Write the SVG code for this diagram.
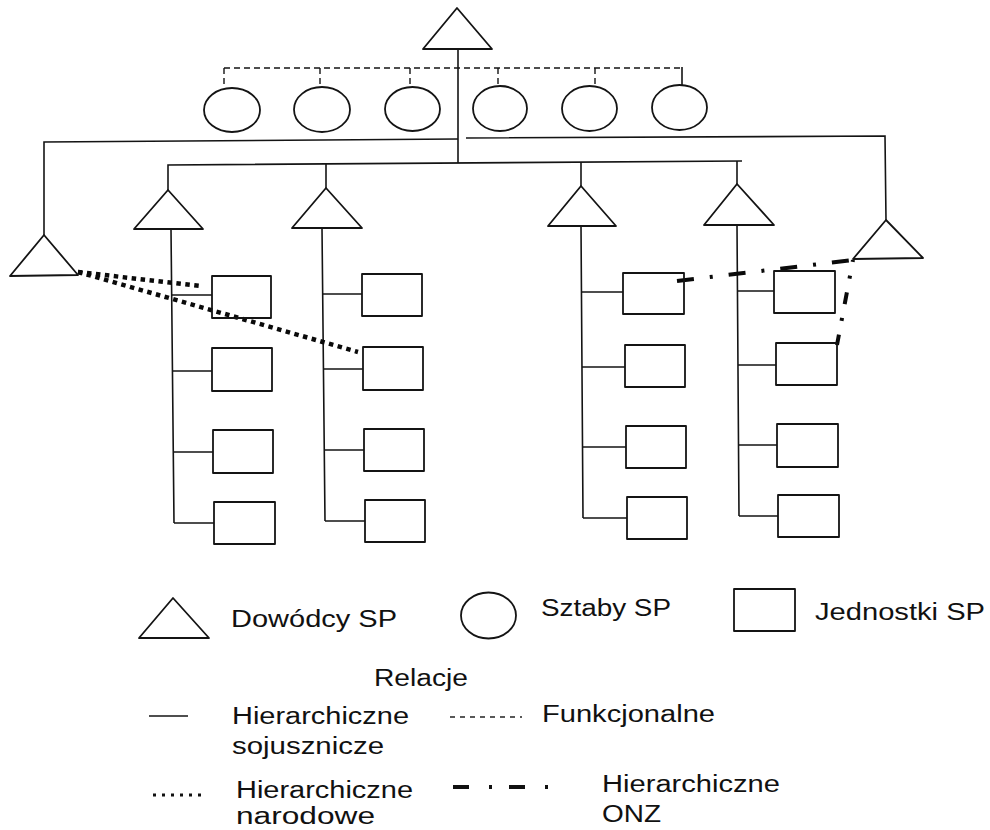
<svg xmlns="http://www.w3.org/2000/svg" width="990" height="830" viewBox="0 0 990 830">
<style>
.n{fill:none;stroke:#141414;stroke-width:1.8;stroke-linejoin:round}
.h{fill:none;stroke:#141414;stroke-width:1.6}
.f{fill:none;stroke:#141414;stroke-width:1.4;stroke-dasharray:6 4}
.nat{fill:none;stroke:#0a0a0a;stroke-width:4.5;stroke-dasharray:4.5 4.5}
.onz{fill:none;stroke:#0a0a0a;stroke-width:4;stroke-dasharray:17 16 3 16}
.t{font-family:"Liberation Sans",Arial,sans-serif;font-size:23px;fill:#111}
</style>
<rect width="990" height="830" fill="#fff"/>
<g id="connectors">
  <path class="f" d="M224,68 H682 M224,68 V88 M320,68 V87 M410,68 V87 M498,68 V86 M595,68 V86"/>
  <path class="h" d="M682,67 V86"/>
  <path class="h" d="M458,49 V163"/>
  <path class="h" d="M44,235 V142 L458,139"/>
  <path class="h" d="M466,138 L885,136 L886,220"/>
  <path class="h" d="M168,190 V165 L742,161"/>
  <path class="h" d="M326,188 V164 M581,186 V162 M737,184 V161"/>
  <path class="h" d="M171,229 L174,523 M171.5,295 H212 M172,371 H212 M173,452 H213 M174,523 H214"/>
  <path class="h" d="M322,228 L325,521 M322.5,294 H362 M323,369 H363 M324,450 H364 M325,521 H365"/>
  <path class="h" d="M581,226 L583,518 M581.5,292 H623 M582,367 H625 M582.5,447 H626 M583,518 H627"/>
  <path class="h" d="M737,225 L739,516 M737.5,291 H774 M738,365 H776 M738.5,445 H777 M739,516 H778"/>
  <path class="nat" d="M78,272 L200,286"/>
  <path class="nat" d="M78,272 L358,352"/>
  <path class="onz" d="M677,281 L853,260"/>
  <path class="onz" style="stroke-dasharray:12 14 3 14;stroke-dashoffset:10" d="M853,260 L837,345"/>
</g>
<g id="cmd-top"><polygon class="n" points="457,8 423,49 492,49"/></g>
<g id="staff-1"><ellipse class="n" cx="232" cy="110" rx="28" ry="22"/></g>
<g id="staff-2"><ellipse class="n" cx="322" cy="109.5" rx="28" ry="22.5"/></g>
<g id="staff-3"><ellipse class="n" cx="412.5" cy="109" rx="27.5" ry="22"/></g>
<g id="staff-4"><ellipse class="n" cx="500" cy="108.5" rx="27" ry="22.5"/></g>
<g id="staff-5"><ellipse class="n" cx="589.5" cy="108.5" rx="27.5" ry="22.5"/></g>
<g id="staff-6"><ellipse class="n" cx="679.5" cy="107.5" rx="27.5" ry="22.5"/></g>
<g id="cmd-left"><polygon class="n" points="44,235 10,276 78,275"/></g>
<g id="cmd-a"><polygon class="n" points="168,190 134,229 203,229"/></g>
<g id="cmd-b"><polygon class="n" points="326,188 292,228 362,228"/></g>
<g id="cmd-c"><polygon class="n" points="581,186 548,226 616,226"/></g>
<g id="cmd-d"><polygon class="n" points="737,184 704,225 774,225"/></g>
<g id="cmd-right"><polygon class="n" points="886,220 853,259 923,258"/></g>
<g id="unit-a1"><rect class="n" x="212" y="276" width="59" height="42"/></g>
<g id="unit-a2"><rect class="n" x="212" y="348" width="60" height="43"/></g>
<g id="unit-a3"><rect class="n" x="213" y="430" width="60" height="43"/></g>
<g id="unit-a4"><rect class="n" x="214" y="502" width="61" height="42"/></g>
<g id="unit-b1"><rect class="n" x="362" y="274" width="60" height="42"/></g>
<g id="unit-b2"><rect class="n" x="363" y="347" width="60" height="43"/></g>
<g id="unit-b3"><rect class="n" x="364" y="429" width="60" height="42"/></g>
<g id="unit-b4"><rect class="n" x="365" y="500" width="60" height="42"/></g>
<g id="unit-c1"><rect class="n" x="623" y="273" width="61" height="41"/></g>
<g id="unit-c2"><rect class="n" x="625" y="345" width="60" height="42"/></g>
<g id="unit-c3"><rect class="n" x="626" y="426" width="60" height="42"/></g>
<g id="unit-c4"><rect class="n" x="627" y="497" width="60" height="42"/></g>
<g id="unit-d1"><rect class="n" x="774" y="271" width="61" height="42"/></g>
<g id="unit-d2"><rect class="n" x="776" y="343" width="61" height="42"/></g>
<g id="unit-d3"><rect class="n" x="777" y="424" width="61" height="43"/></g>
<g id="unit-d4"><rect class="n" x="778" y="495" width="61" height="42"/></g>
<g id="legend-commanders">
  <polygon class="n" points="173,598 139,638 209,638"/>
  <text class="t" x="231" y="627" textLength="166" lengthAdjust="spacingAndGlyphs">Dowódcy SP</text>
</g>
<g id="legend-staffs">
  <ellipse class="n" cx="488.5" cy="615.5" rx="27.5" ry="23"/>
  <text class="t" x="541" y="616" textLength="130" lengthAdjust="spacingAndGlyphs">Sztaby SP</text>
</g>
<g id="legend-units">
  <rect class="n" x="734" y="589" width="61" height="42"/>
  <text class="t" x="815" y="620" textLength="170" lengthAdjust="spacingAndGlyphs">Jednostki SP</text>
</g>
<g id="legend-relations">
  <text class="t" x="374" y="686" textLength="94" lengthAdjust="spacingAndGlyphs">Relacje</text>
  <path class="h" d="M149,716 H188"/>
  <text class="t" x="232" y="724" textLength="177" lengthAdjust="spacingAndGlyphs">Hierarchiczne</text>
  <text class="t" x="232" y="754" textLength="152" lengthAdjust="spacingAndGlyphs">sojusznicze</text>
  <path fill="none" stroke="#222" stroke-width="1.4" stroke-dasharray="5 5" d="M450,717 H522"/>
  <text class="t" x="542" y="722" textLength="173" lengthAdjust="spacingAndGlyphs">Funkcjonalne</text>
  <path fill="none" stroke="#111" stroke-width="3" stroke-dasharray="3 6" d="M153,795 H206"/>
  <text class="t" x="236" y="798" textLength="177" lengthAdjust="spacingAndGlyphs">Hierarchiczne</text>
  <text class="t" x="236" y="824" textLength="139" lengthAdjust="spacingAndGlyphs">narodowe</text>
  <path fill="none" stroke="#111" stroke-width="4" stroke-dasharray="16 20 3 17" d="M453,787 H548"/>
  <text class="t" x="602" y="792" textLength="178" lengthAdjust="spacingAndGlyphs">Hierarchiczne</text>
  <text class="t" x="602" y="822" textLength="59" lengthAdjust="spacingAndGlyphs">ONZ</text>
</g>
</svg>
